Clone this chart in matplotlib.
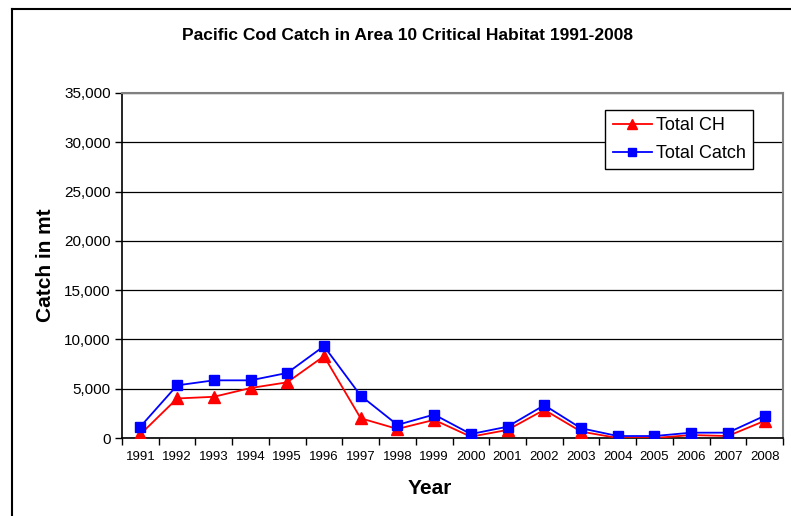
import matplotlib
matplotlib.use("Agg")
import matplotlib.pyplot as plt
from matplotlib.lines import Line2D
from matplotlib.ticker import FuncFormatter, MultipleLocator, FixedLocator
import numpy as np

plt.rcParams['font.family'] = ['Liberation Sans', 'DejaVu Sans']

years = [str(y) for y in range(1991, 2009)]
total_ch = [370, 4010, 4180, 5070, 5650, 8300, 2000, 920, 1840, 130, 820, 2860, 650, 0, 0, 300, 200, 1740]
total_catch = [1150, 5340, 5850, 5850, 6600, 9320, 4290, 1330, 2380, 400, 1150, 3330, 990, 200, 200, 540, 540, 2250]

fig = plt.figure(figsize=(7.91, 5.16), dpi=100)
ax = fig.add_axes([122/791, 1-438/516, (783-122)/791, (438-93)/516])

x = np.arange(len(years))
ax.plot(x, total_ch, color='#ff0000', marker='^', markersize=8, linewidth=1.3, label='Total CH', zorder=3)
ax.plot(x, total_catch, color='#0000ff', marker='s', markersize=7.5, linewidth=1.3, label='Total Catch', zorder=4)

ax.set_xlim(-0.5, len(years) - 0.5)
ax.set_ylim(0, 35000)
ax.yaxis.set_major_locator(MultipleLocator(5000))
ax.yaxis.set_major_formatter(FuncFormatter(lambda v, p: f"{int(v):,}"))
ax.set_xticks(x)
ax.set_xticklabels(years, fontsize=9.5)
ax.xaxis.set_minor_locator(FixedLocator(np.arange(-0.5, len(years), 1.0)))
ax.tick_params(axis='x', which='major', length=0, pad=9)
ax.tick_params(axis='x', which='minor', length=5, width=1, direction='out', color='black')
ax.tick_params(axis='y', length=5, width=1, labelsize=11, color='black', pad=3)

ax.grid(axis='y', color='#000000', linewidth=0.9)
ax.set_axisbelow(True)
for s in ['top', 'right']:
    ax.spines[s].set_color('#808080')
    ax.spines[s].set_linewidth(1.5)
for s in ['left', 'bottom']:
    ax.spines[s].set_color('black')
    ax.spines[s].set_linewidth(1.2)

ax.set_ylabel('Catch in mt', fontsize=15, fontweight='bold', labelpad=7)
ax.set_xlabel('Year', fontsize=15, fontweight='bold')
ax.xaxis.set_label_coords((430-122)/661, -0.119)

fig.text(408/791, 1-35/516, 'Pacific Cod Catch in Area 10 Critical Habitat 1991-2008',
         ha='center', va='center', fontsize=12.5, fontweight='bold')

leg = ax.legend(loc='upper right', bbox_to_anchor=((753-122)/661, (438-110)/345),
                fontsize=13, frameon=True, fancybox=False, edgecolor='black',
                framealpha=1, borderpad=0.4, handlelength=2.2, labelspacing=0.6,
                handletextpad=0.2, borderaxespad=0, markerscale=0.85)
leg.get_frame().set_linewidth(1)

# outer chart frame
fig.add_artist(Line2D([12.5/791, 12.5/791], [0, 1-8.5/516], color='black', linewidth=1.5, transform=fig.transFigure))
fig.add_artist(Line2D([12.5/791, 1.0], [1-8.5/516, 1-8.5/516], color='black', linewidth=1.5, transform=fig.transFigure))

fig.savefig('out.png', dpi=100)
